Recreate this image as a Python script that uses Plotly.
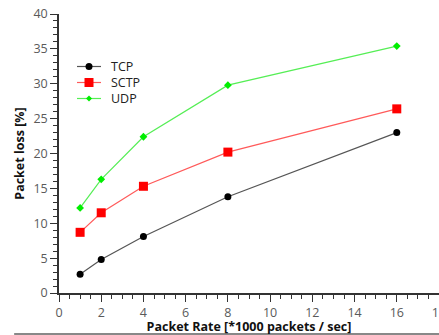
import plotly.graph_objects as go

rates = [1, 2, 4, 8, 16]
tcp = [2.7, 4.8, 8.1, 13.8, 23.0]
sctp = [8.7, 11.5, 15.3, 20.2, 26.4]
udp = [12.2, 16.3, 22.4, 29.8, 35.4]

series = [
    ("TCP", tcp, "#555555", "circle", 7, "black"),
    ("SCTP", sctp, "#ff5a5a", "square", 9, "#ff0000"),
    ("UDP", udp, "#55ee55", "diamond", 6, "#00ee00"),
]

fig = go.Figure()
for name, vals, lc, sym, ms, mc in series:
    fig.add_trace(go.Scatter(x=rates, y=vals, name=name, mode="lines+markers",
                             line=dict(color=lc, width=1.2),
                             marker=dict(symbol=sym, size=ms, color=mc)))

axis_common = dict(showgrid=False, zeroline=False, showline=True, linecolor="#333333",
                   linewidth=1.5, ticks="outside", ticklen=7, tickcolor="#333333",
                   ticklabeloverflow="allow", automargin=False,
                   tickfont=dict(family="Open Sans", size=12.5, color="#5a5a5a"))

fig.update_layout(
    width=439, height=335,
    margin=dict(l=59, r=0, t=14, b=42, autoexpand=False),
    plot_bgcolor="white", paper_bgcolor="white",
    font=dict(family="Open Sans"),
    showlegend=False,
    xaxis=dict(range=[0, 18], dtick=2, tick0=0,
               minor=dict(dtick=0.5, ticklen=4, ticks="outside", tickcolor="#333333"),
               title=dict(text="<b>Packet Rate [*1000 packets / sec]</b>", standoff=8,
                          font=dict(size=12.5, color="#111111")),
               **axis_common),
    yaxis=dict(range=[0, 40], dtick=5, tick0=0,
               minor=dict(dtick=1, ticklen=4, ticks="outside", tickcolor="#333333"),
               title=dict(text="<b>Packet loss [%]</b>", standoff=6,
                          font=dict(size=12.5, color="#111111")),
               **axis_common),
)

# manual legend (pixel positions converted to paper coordinates)
W, X0, H, Y0 = 380.0, 59.0, 279.0, 293.0
def px(x):
    return (x - X0) / W
def py(y):
    return (Y0 - y) / H

leg_rows = [66.5, 82.5, 98.5]
for (name, vals, lc, sym, ms, mc), yy in zip(series, leg_rows):
    fig.add_shape(type="line", xref="paper", yref="paper",
                  x0=px(77), x1=px(101), y0=py(yy), y1=py(yy),
                  line=dict(color=lc, width=1.2))
    r = ms / 2.0
    cx = 89
    if sym == "circle":
        fig.add_shape(type="circle", xref="paper", yref="paper",
                      x0=px(cx - r), x1=px(cx + r), y0=py(yy - r), y1=py(yy + r),
                      fillcolor=mc, line=dict(width=0))
    elif sym == "square":
        fig.add_shape(type="rect", xref="paper", yref="paper",
                      x0=px(cx - r), x1=px(cx + r), y0=py(yy - r), y1=py(yy + r),
                      fillcolor=mc, line=dict(width=0))
    else:
        path = "M {} {} L {} {} L {} {} L {} {} Z".format(
            px(cx - r), py(yy), px(cx), py(yy - r), px(cx + r), py(yy), px(cx), py(yy + r))
        fig.add_shape(type="path", xref="paper", yref="paper", path=path,
                      fillcolor=mc, line=dict(width=0))
    fig.add_annotation(xref="paper", yref="paper", x=px(110), y=py(yy),
                       xanchor="left", yanchor="middle", showarrow=False, borderpad=0,
                       text=name, font=dict(size=12.5, color="#222222"))

fig.add_shape(type="line", xref="paper", yref="paper",
              x0=-0.118, x1=1.0, y0=-0.147, y1=-0.147,
              line=dict(color="#888888", width=2))

fig.write_html("out.html")
